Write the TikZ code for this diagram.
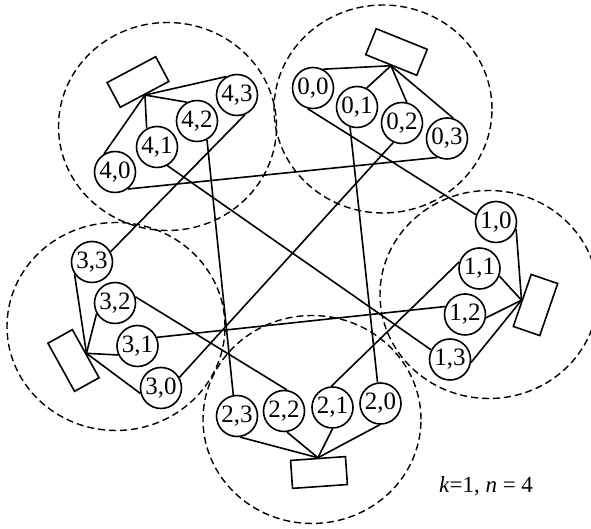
\documentclass[tikz,border=0pt]{standalone}
\usepackage{fontspec}
\setmainfont{Liberation Serif}
\usetikzlibrary{shapes.geometric}

\begin{document}
\begin{tikzpicture}[
      x=0.5pt, y=-0.5pt,
      line width=0.8pt,
      font=\rmfamily\fontsize{12.5}{13}\selectfont,
      zone/.style={draw, ellipse, line width=0.7pt, dash pattern=on 3.5pt off 2pt, minimum width=109pt, minimum height=104pt},
      host/.style={draw, circle, inner sep=0pt, minimum size=20.5pt},
      sw/.style={draw, rectangle, minimum width=27.5pt, minimum height=14pt}]
    \useasboundingbox (0,0) rectangle (591,529);
    \node[zone] (z4) at (167.5,126.5) {};
    \node[zone] (z0) at (383,109) {};
    \node[zone] (z1) at (489,294.5) {};
    \node[zone] (z2) at (312,419.5) {};
    \node[zone] (z3) at (116,326.5) {};
    \node[sw, rotate=-152] (sw4) at (138,82) {};
    \node[sw, rotate=158] (sw0) at (396.5,52) {};
    \node[sw, rotate=71] (sw1) at (535.5,305) {};
    \node[sw, rotate=4] (sw2) at (319,472.5) {};
    \node[sw, rotate=-61] (sw3) at (73.5,360.5) {};
    \node[host] (n40) at (115,172) {4,0};
    \node[host] (n41) at (157,147) {4,1};
    \node[host] (n42) at (197,121) {4,2};
    \node[host] (n43) at (237,95) {4,3};
    \node[host] (n00) at (313,88) {0,0};
    \node[host] (n01) at (357,107) {0,1};
    \node[host] (n02) at (402,123) {0,2};
    \node[host] (n03) at (447,138.5) {0,3};
    \node[host] (n10) at (496,222) {1,0};
    \node[host] (n11) at (479.5,268.5) {1,1};
    \node[host] (n12) at (465,314.5) {1,2};
    \node[host] (n13) at (450,359.5) {1,3};
    \node[host] (n20) at (380.5,403.5) {2,0};
    \node[host] (n21) at (332.5,407.5) {2,1};
    \node[host] (n22) at (284,411) {2,2};
    \node[host] (n23) at (237,416) {2,3};
    \node[host] (n30) at (161,388) {3,0};
    \node[host] (n31) at (137.5,346) {3,1};
    \node[host] (n32) at (115,303) {3,2};
    \node[host] (n33) at (92,262) {3,3};
    \node (lbl) at (486,486) {\fontsize{11.5}{13}\selectfont\textit{k}=1, \textit{n} = 4};
    \draw (sw4.north) -- (n40.121);
    \draw (sw4.north) -- (n41.119);
    \draw (sw4.north) -- (n42.118);
    \draw (sw4.north) -- (n43.120);
    \draw (sw0.north) -- (n00.62);
    \draw (sw0.north) -- (n01.63);
    \draw (sw0.north) -- (n02.77);
    \draw (sw0.north) -- (n03.73);
    \draw (sw1.north) -- (n10.-19);
    \draw (sw1.north) -- (n11.-21);
    \draw (sw1.north) -- (n12.-9);
    \draw (sw1.north) -- (n13.-8);
    \draw (sw2.north) -- (n20.-92);
    \draw (sw2.north) -- (n21.-90);
    \draw (sw2.north) -- (n22.-82);
    \draw (sw2.north) -- (n23.-82);
    \draw (sw3.north) -- (n30.-165);
    \draw (sw3.north) -- (n31.-155);
    \draw (sw3.north) -- (n32.-150);
    \draw (sw3.north) -- (n33.-145);
    \draw (n40.-53) -- (n03.-117);
    \draw (n41.-61) -- (n13.153);
    \draw (n42.-62) -- (n23.100);
    \draw (n43.-68) -- (n33.29);
    \draw (n00.-105) -- (n10.160);
    \draw (n01.-109) -- (n20.98);
    \draw (n02.-114) -- (n30.30);
    \draw (n11.162) -- (n21.93);
    \draw (n12.158) -- (n31.24);
    \draw (n22.82) -- (n32.17);
  \end{tikzpicture}
\end{document}
